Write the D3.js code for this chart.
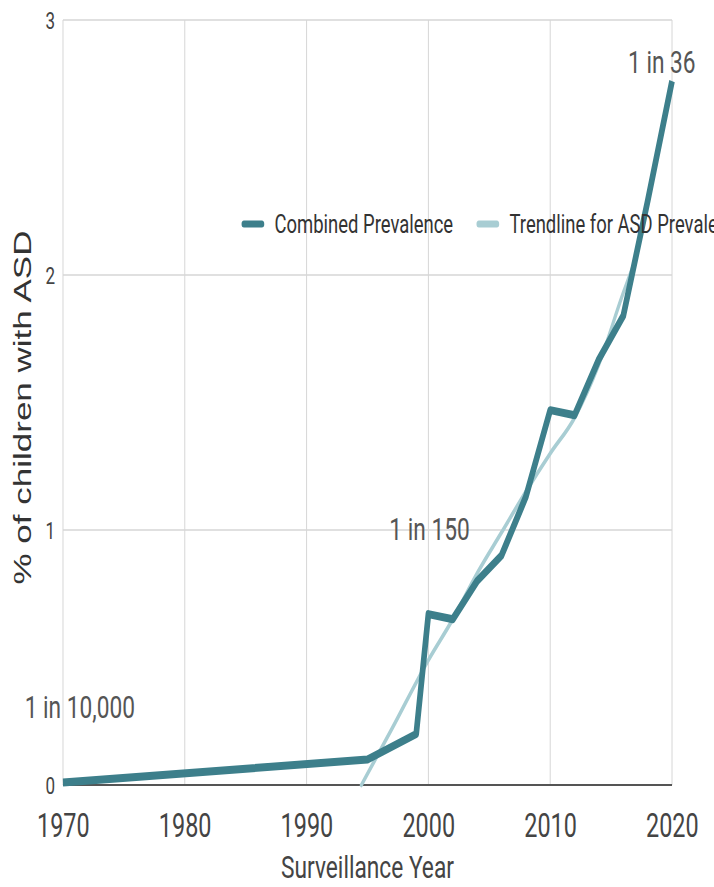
<!DOCTYPE html>
<html>
<head>
<meta charset="utf-8">
<script src="https://cdn.jsdelivr.net/npm/d3@7"></script>
<style>
  html, body { margin: 0; padding: 0; background: #fff; }
  svg { display: block; }
</style>
</head>
<body>
<div id="chart"></div>
<script>
// ---- data ----
const years = [1970, 1995, 1999, 2000, 2002, 2004, 2006, 2008, 2010, 2012, 2014, 2016, 2018, 2020];
const combinedPrevalence = [0.01, 0.1, 0.2, 0.67, 0.65, 0.8, 0.9, 1.13, 1.47, 1.45, 1.67, 1.84, 2.29, 2.76];
const trendYears = [1994.5, 1997, 2000, 2002, 2004, 2006, 2008, 2010, 2012, 2014, 2016, 2017];
const trendValues = [0, 0.22, 0.49, 0.65, 0.83, 0.99, 1.15, 1.30, 1.44, 1.65, 1.93, 2.06];
const xTicks = [1970, 1980, 1990, 2000, 2010, 2020];
const yTicks = [0, 1, 2, 3];
const seriesNames = ["Combined Prevalence", "Trendline for ASD Prevalence"];
const annotations = [
  { year: 1970, value: 0.01, text: "1 in 10,000" },
  { year: 2000, value: 0.67, text: "1 in 150" },
  { year: 2020, value: 2.76, text: "1 in 36" }
];
const xTitle = "Surveillance Year";
const yTitle = "% of children with ASD";

// ---- layout ----
const W = 714, H = 887;
const SX = 0.71;                 // horizontal squeeze of the whole picture
const mLeft = 88.7, mRight = 946.5, mTop = 20, mBottom = 785;

const darkTeal = "#3d7f8b";
const lightTeal = "#a8cdd3";
const grid = "#d6d6d6";
const textCol = "#444";

const svg = d3.select("#chart").append("svg")
  .attr("width", W).attr("height", H)
  .style("overflow", "hidden");
const g = svg.append("g").attr("transform", `scale(${SX},1)`);

const x = d3.scaleLinear().domain([1970, 2020]).range([mLeft, mRight]);
const y = d3.scaleLinear().domain([0, 3]).range([mBottom, mTop]);

// gridlines
g.append("g").selectAll("line").data(xTicks).join("line")
  .attr("x1", d => x(d)).attr("x2", d => x(d))
  .attr("y1", y(3)).attr("y2", y(0))
  .attr("stroke", grid).attr("stroke-width", 1.4);
g.append("g").selectAll("line").data(yTicks.filter(d => d > 0)).join("line")
  .attr("x1", x(1970)).attr("x2", x(2020))
  .attr("y1", d => y(d)).attr("y2", d => y(d))
  .attr("stroke", grid).attr("stroke-width", 1.4);

// baseline
g.append("line")
  .attr("x1", x(1970)).attr("x2", x(2020))
  .attr("y1", y(0)).attr("y2", y(0))
  .attr("stroke", "#555").attr("stroke-width", 2);

// axes via d3 axis
const xAxis = d3.axisBottom(x).tickValues(xTicks).tickFormat(d3.format("d")).tickSize(0).tickPadding(40);
const xg = g.append("g").attr("transform", `translate(0,${y(0)})`).call(xAxis);
xg.select(".domain").remove();
xg.selectAll("text").attr("font-family", "Roboto, sans-serif").attr("font-size", 33)
  .attr("fill", textCol).attr("dy", "0.35em");

const yAxis = d3.axisLeft(y).tickValues(yTicks).tickFormat(d3.format("d")).tickSize(0).tickPadding(11);
const yg = g.append("g").attr("transform", `translate(${mLeft},0)`).call(yAxis);
yg.select(".domain").remove();
yg.selectAll("text").attr("font-family", "Roboto, sans-serif").attr("font-size", 24)
  .attr("fill", textCol).attr("dy", "0.36em");

// trendline
const trendData = trendYears.map((t, i) => ({ t, v: trendValues[i] }));
g.append("path").datum(trendData)
  .attr("fill", "none").attr("stroke", lightTeal).attr("stroke-width", 4.5)
  .attr("stroke-linecap", "round")
  .attr("d", d3.line().x(d => x(d.t)).y(d => y(d.v)).curve(d3.curveMonotoneX));

// combined line
const combData = years.map((t, i) => ({ t, v: combinedPrevalence[i] }));
g.append("path").datum(combData)
  .attr("fill", "none").attr("stroke", darkTeal).attr("stroke-width", 8)
  .attr("stroke-linejoin", "round").attr("stroke-linecap", "butt")
  .attr("d", d3.line().x(d => x(d.t)).y(d => y(d.v)));

// annotations
const annOffsets = [[-54, -64], [-55, -74], [-62, -8]];
g.append("g").selectAll("text").data(annotations).join("text")
  .attr("x", (d, i) => x(d.year) + annOffsets[i][0])
  .attr("y", (d, i) => y(d.value) + annOffsets[i][1])
  .attr("font-family", "Roboto, sans-serif").attr("font-size", 32)
  .attr("fill", "#555")
  .text(d => d.text);

// legend
const legendPos = [343.7, 674.6];
const lg = g.append("g");
seriesNames.forEach((name, i) => {
  lg.append("line")
    .attr("x1", legendPos[i]).attr("x2", legendPos[i] + 25)
    .attr("y1", 224).attr("y2", 224)
    .attr("stroke", i === 0 ? darkTeal : lightTeal).attr("stroke-width", 7)
    .attr("stroke-linecap", "round");
  lg.append("text")
    .attr("x", legendPos[i] + 43).attr("y", 233)
    .attr("font-family", "Roboto, sans-serif").attr("font-size", 26)
    .attr("fill", "#333")
    .text(name);
});

// axis titles
g.append("text")
  .attr("x", (mLeft + mRight) / 2).attr("y", 878)
  .attr("text-anchor", "middle")
  .attr("font-family", "Roboto, sans-serif").attr("font-size", 32)
  .attr("fill", textCol)
  .text(xTitle);

g.append("text")
  .attr("transform", `translate(43,${(mTop + mBottom) / 2 + 5}) rotate(-90)`)
  .attr("text-anchor", "middle")
  .attr("font-family", "'Liberation Sans', Arial, sans-serif").attr("font-size", 35)
  .attr("fill", "#333")
  .text(yTitle);
</script>
</body>
</html>
